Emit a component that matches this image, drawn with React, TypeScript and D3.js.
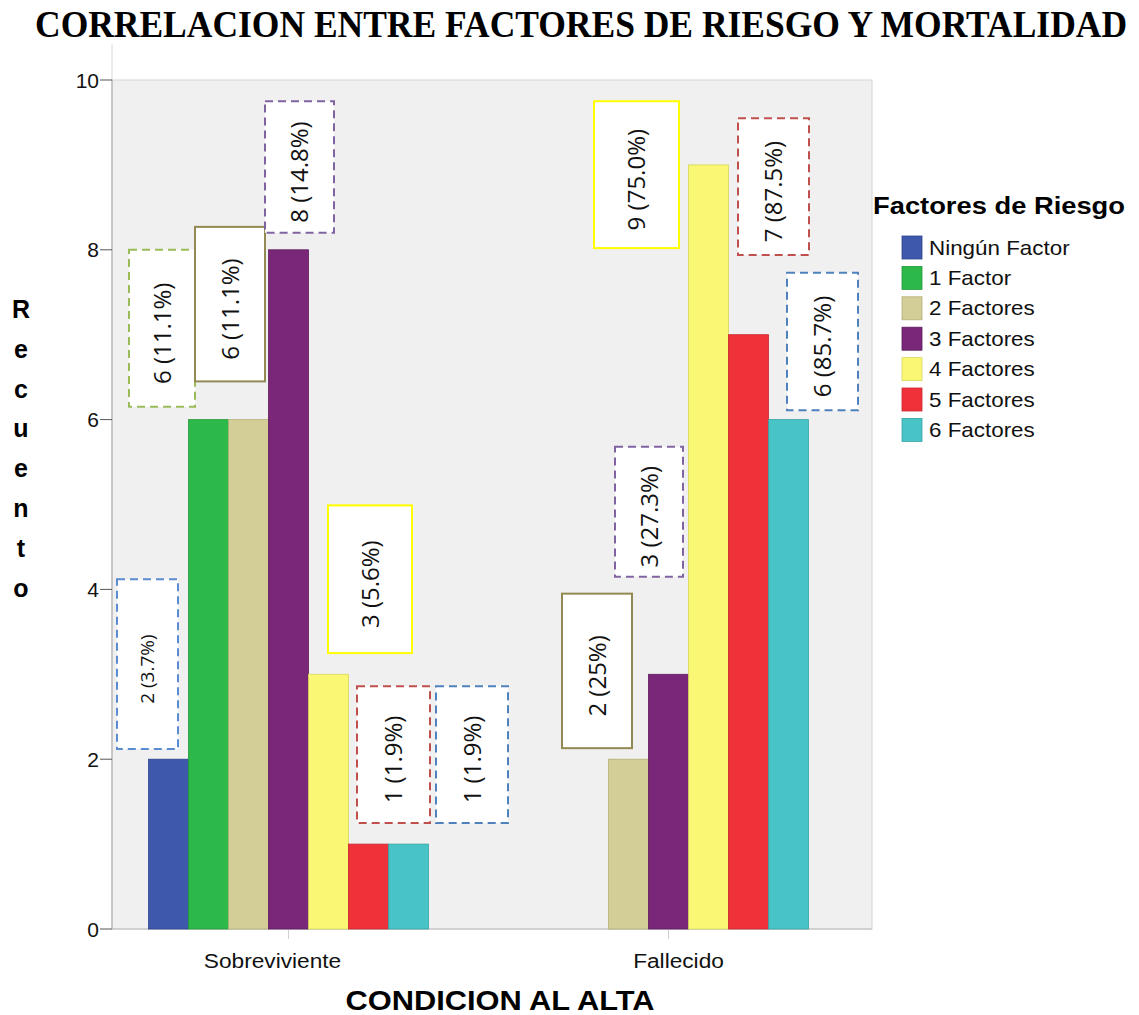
import React from "react";
import * as d3 from "d3";

const categories = ["Sobreviviente", "Fallecido"];
const seriesNames = ["Ningún Factor", "1 Factor", "2 Factores", "3 Factores", "4 Factores", "5 Factores", "6 Factores"];
const sobrevivienteValues = [2, 6, 6, 8, 3, 1, 1];
const fallecidoValues = [0, 0, 2, 3, 9, 7, 6];
const sobrevivienteLabels = ["2 (3.7%)", "6 (11.1%)", "6 (11.1%)", "8 (14.8%)", "3 (5.6%)", "1 (1.9%)", "1 (1.9%)"];
const fallecidoLabels = ["", "", "2 (25%)", "3 (27.3%)", "9 (75.0%)", "7 (87.5%)", "6 (85.7%)"];
const yTicks = [0, 2, 4, 6, 8, 10];
const seriesColors = ["#3e58ac", "#2db84a", "#d3ce97", "#7b2779", "#f9f774", "#ef3239", "#48c3c6"];
const seriesStrokes = ["#2f4590", "#239a3b", "#b5b07a", "#5e1b5c", "#d8d65a", "#c8262c", "#35a3a6"];

// annotation box layout: [dx px from bar left, box width px, y bottom (value units), y top (value units), border colour, dashed, font size]
const boxLayoutS: [number, number, number, number, string, boolean, number][] = [
  [-31.5, 61, 2.12, 4.12, "#5b8bd0", true, 19],
  [-59.5, 66, 6.15, 8.0, "#9bbb59", true, 24],
  [-33.5, 70, 6.45, 8.27, "#938953", false, 24],
  [-3.5, 69, 8.2, 9.75, "#8064a2", true, 24],
  [19.5, 84, 3.25, 4.99, "#ffff00", false, 24],
  [8.5, 73, 1.25, 2.86, "#c0504d", true, 24],
  [47.5, 72, 1.25, 2.86, "#4f81bd", true, 24],
];
const boxLayoutF: [number, number, number, number, string, boolean, number][] = [
  [0, 0, 0, 0, "none", false, 0],
  [0, 0, 0, 0, "none", false, 0],
  [-46.5, 70, 2.13, 3.95, "#938953", false, 24],
  [-33.5, 68, 4.15, 5.68, "#8064a2", true, 24],
  [-94.5, 85, 8.02, 9.75, "#ffff00", false, 24],
  [9.5, 71, 7.94, 9.55, "#c0504d", true, 24],
  [18.5, 71, 6.11, 7.73, "#4f81bd", true, 24],
];

export default function App() {
  const W = 1139, H = 1015;
  const left = 112, right = 872, top = 80, bottom = 929;
  const y = d3.scaleLinear().domain([0, 10]).range([bottom, top]);
  const x = d3.scaleBand().domain(categories).range([98.5, 858.5]).paddingInner(0).paddingOuter(0);
  const inner = d3.scaleBand().domain(seriesNames).range([0, 280]).padding(0);
  const groupOffset = (x.bandwidth() - 280) / 2;
  const values = [sobrevivienteValues, fallecidoValues];
  const labels = [sobrevivienteLabels, fallecidoLabels];
  const layouts = [boxLayoutS, boxLayoutF];
  const tickLabelDx = [-16, 10];
  const font = "Arial, 'Liberation Sans', sans-serif";
  const labelFont = "'Open Sans', 'Noto Sans', sans-serif";

  return (
    <svg width={W} height={H} style={{ position: "absolute", left: 0, top: 0, background: "#fff" }}>
      <text transform="translate(581,37) scale(1,1.06)" textAnchor="middle" fontFamily="'Liberation Serif', 'Times New Roman', serif" fontWeight="bold" fontSize={35} textLength={1092} lengthAdjust="spacingAndGlyphs">CORRELACION ENTRE FACTORES DE RIESGO Y MORTALIDAD</text>
      <line x1={left} x2={left} y1={44} y2={top} stroke="#d8d8d8" />
      <rect x={left} y={top} width={right - left} height={bottom - top} fill="#f0f0f0" stroke="#d4d4d4" />
      <line x1={left} x2={left} y1={top} y2={bottom} stroke="#a8a8a8" />
      <line x1={left} x2={right} y1={bottom} y2={bottom} stroke="#bdbdbd" />
      {yTicks.map((t) => (
        <g key={t}>
          <line x1={100} x2={left} y1={y(t)} y2={y(t)} stroke="#555" />
          <text x={99} y={y(t) + 7.5} textAnchor="end" fontFamily={font} fontSize={21} fill="#111">{t}</text>
        </g>
      ))}
      {categories.map((c, ci) => (
        <g key={c}>
          <line x1={x(c)! + x.bandwidth() / 2} x2={x(c)! + x.bandwidth() / 2} y1={bottom} y2={bottom + 10} stroke="#d0d0d0" />
          <text transform={`translate(${x(c)! + x.bandwidth() / 2 + tickLabelDx[ci]},968) scale(1.08,1)`} textAnchor="middle" fontFamily={font} fontSize={21} fill="#111">{c}</text>
        </g>
      ))}
      {categories.map((c, ci) => (
        <g key={"bars" + c}>
          {seriesNames.map((s, si) => {
            const v = values[ci][si];
            if (!v) return null;
            const bx = x(c)! + groupOffset + inner(s)!;
            return <rect key={s} x={bx} y={y(v)} width={inner.bandwidth()} height={y(0) - y(v)} fill={seriesColors[si]} stroke={seriesStrokes[si]} strokeWidth={0.8} />;
          })}
        </g>
      ))}
      {categories.map((c, ci) => (
        <g key={"lab" + c}>
          {seriesNames.map((s, si) => {
            const lbl = labels[ci][si];
            if (!lbl) return null;
            const [dx, bw, v0, v1, col, dashed, fs] = layouts[ci][si];
            const bx = x(c)! + groupOffset + inner(s)! + dx;
            const y0 = y(v1), y1 = y(v0);
            const cx = bx + bw / 2, cy = (y0 + y1) / 2;
            return (
              <g key={s}>
                <rect x={bx} y={y0} width={bw} height={y1 - y0} fill="#fff" stroke={col} strokeWidth={2} strokeDasharray={dashed ? "8 5" : undefined} />
                <text transform={`translate(${cx + fs * 0.36},${cy + 5}) rotate(-90)`} textAnchor="middle" fontFamily={labelFont} fontSize={fs} fill="#111">{lbl}</text>
              </g>
            );
          })}
        </g>
      ))}
      {"Recuento".split("").map((ch, i) => (
        <text key={i} x={21} y={318 + i * 39.8} textAnchor="middle" fontFamily={font} fontWeight="bold" fontSize={25} fill="#000">{ch}</text>
      ))}
      <text x={500} y={1010} textAnchor="middle" fontFamily={font} fontWeight="bold" fontSize={27} textLength={309} lengthAdjust="spacingAndGlyphs">CONDICION AL ALTA</text>
      <text x={873} y={214} fontFamily={font} fontWeight="bold" fontSize={23} textLength={252} lengthAdjust="spacingAndGlyphs">Factores de Riesgo</text>
      {seriesNames.map((s, i) => (
        <g key={s} transform={`translate(902,${236 + i * 30.4})`}>
          <rect x={0} y={0} width={20} height={23} fill={seriesColors[i]} stroke={seriesStrokes[i]} strokeWidth={0.8} />
          <text transform="translate(27,18.5) scale(1.12,1)" fontFamily={font} fontSize={20} fill="#111">{s}</text>
        </g>
      ))}
    </svg>
  );
}
